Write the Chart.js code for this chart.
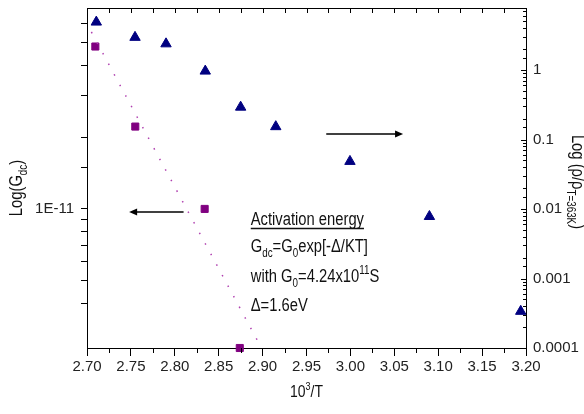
<!DOCTYPE html>
<html>
<head>
<meta charset="utf-8">
<script src="https://cdn.jsdelivr.net/npm/chart.js@4"></script>
<style>
  html, body { margin: 0; padding: 0; background: #fff; }
</style>
</head>
<body>
<canvas id="myChart" width="584" height="414"></canvas>
<script>
// conductivity (left axis, squares)
const condX = [2.7095, 2.755, 2.834, 2.874];
const condY = [4.82e-11, 2.22e-11, 1.0e-11, 2.6e-12];

// resistivity ratio (right axis, triangles)
const resX = [2.7106, 2.7547, 2.79, 2.8347, 2.875, 2.915, 2.9995, 3.09, 3.194];
const resY = [4.89, 2.95, 2.38, 0.964, 0.292, 0.153, 0.0484, 0.0078, 0.000337];

// Arrhenius fit (dotted)
const fitX = [2.705, 2.897];
const fitY = [5.55e-11, 2.67e-12];

const xTickVals = [2.70, 2.75, 2.80, 2.85, 2.90, 2.95, 3.00, 3.05, 3.10, 3.15, 3.20];
const xTickLabels = ["2.70", "2.75", "2.80", "2.85", "2.90", "2.95", "3.00", "3.05", "3.10", "3.15", "3.20"];
const leftTickVals = [1e-11];
const leftTickLabels = ["1E-11"];
const rightTickVals = [1e-4, 1e-3, 1e-2, 1e-1, 1];
const rightTickLabels = ["0.0001", "0.001", "0.01", "0.1", "1"];

const FF = '"Liberation Sans", Arial, sans-serif';
const SX = 0.82; // squeeze for the narrow look of the original text

function pickLabel(v, vals, labels) {
  const i = vals.findIndex((t) => Math.abs(t - v) / t < 1e-6);
  return i >= 0 ? labels[i] : "";
}

function richWidth(ctx, parts, size) {
  let w = 0;
  parts.forEach(([t, k]) => {
    const s = k === "n" ? size : Math.round(size * 0.65);
    ctx.font = s + "px " + FF;
    w += ctx.measureText(t).width;
  });
  return w * SX;
}

function drawRich(ctx, x, y, parts, size) {
  ctx.save();
  ctx.translate(x, y);
  ctx.scale(SX, 1);
  let cx = 0;
  parts.forEach(([t, k]) => {
    const s = k === "n" ? size : Math.round(size * 0.65);
    const dy = k === "sub" ? size * 0.3 : k === "sup" ? -size * 0.42 : 0;
    ctx.font = s + "px " + FF;
    ctx.fillText(t, cx, dy);
    cx += ctx.measureText(t).width;
  });
  ctx.restore();
  return cx * SX;
}

function arrow(ctx, x1, y, x2) {
  const dir = x2 > x1 ? 1 : -1;
  ctx.beginPath();
  ctx.moveTo(x1, y);
  ctx.lineTo(x2 - dir * 5, y);
  ctx.lineWidth = 1.5;
  ctx.stroke();
  ctx.beginPath();
  ctx.moveTo(x2, y);
  ctx.lineTo(x2 - dir * 8, y - 3.5);
  ctx.lineTo(x2 - dir * 8, y + 3.5);
  ctx.closePath();
  ctx.fill();
}

const decor = {
  id: "decor",
  afterDraw(chart) {
    const ctx = chart.ctx;
    const a = chart.chartArea;
    const xs = chart.scales.x;
    const yl = chart.scales.y;
    const yr = chart.scales.y2;
    ctx.save();
    ctx.strokeStyle = "#000";
    ctx.fillStyle = "#000";
    ctx.lineWidth = 1;

    // top frame line
    ctx.beginPath();
    ctx.moveTo(a.left, a.top + 0.5);
    ctx.lineTo(a.right, a.top + 0.5);
    ctx.stroke();

    // top ticks (inward) and bottom minor ticks
    for (let i = 0; i < xTickVals.length; i++) {
      const px = Math.round(xs.getPixelForValue(xTickVals[i])) + 0.5;
      ctx.beginPath();
      ctx.moveTo(px, a.top);
      ctx.lineTo(px, a.top + 5);
      ctx.stroke();
      if (i < xTickVals.length - 1) {
        const mx = Math.round(xs.getPixelForValue((xTickVals[i] + xTickVals[i + 1]) / 2)) + 0.5;
        ctx.beginPath();
        ctx.moveTo(mx, a.top);
        ctx.lineTo(mx, a.top + 5);
        ctx.moveTo(mx, a.bottom);
        ctx.lineTo(mx, a.bottom + 5);
        ctx.stroke();
      }
    }

    // right axis inward ticks
    yr.ticks.forEach((t) => {
      if (t.value <= yr.min || t.value >= yr.max) return;
      const py = Math.round(yr.getPixelForValue(t.value)) + 0.5;
      const major = pickLabel(t.value, rightTickVals, rightTickLabels) !== "";
      ctx.beginPath();
      ctx.moveTo(a.right, py);
      ctx.lineTo(a.right - (major ? 5 : 3), py);
      ctx.stroke();
    });

    // arrows pointing to each axis
    arrow(ctx, xs.getPixelForValue(2.81), yl.getPixelForValue(9.7e-12), xs.getPixelForValue(2.748));
    arrow(ctx, xs.getPixelForValue(2.9725), yr.getPixelForValue(0.12), xs.getPixelForValue(3.06));

    // activation energy note
    const tx = xs.getPixelForValue(2.8865);
    ctx.fillStyle = "#111";
    ctx.textBaseline = "alphabetic";
    ctx.textAlign = "left";
    const w0 = drawRich(ctx, tx, a.top + 217, [["Activation energy", "n"]], 18);
    ctx.beginPath();
    ctx.moveTo(tx, a.top + 220.5);
    ctx.lineTo(tx + w0, a.top + 220.5);
    ctx.strokeStyle = "#111";
    ctx.stroke();
    drawRich(ctx, tx, a.top + 243.5, [["G", "n"], ["dc", "sub"], ["=G", "n"], ["0", "sub"], ["exp[-\u0394/KT]", "n"]], 18);
    drawRich(ctx, tx, a.top + 273.5, [["with G", "n"], ["0", "sub"], ["=4.24x10", "n"], ["11", "sup"], ["S", "n"]], 18);
    drawRich(ctx, tx, a.top + 303, [["\u0394=1.6eV", "n"]], 18);

    // axis titles
    const xt = [["10", "n"], ["3", "sup"], ["/T", "n"]];
    drawRich(ctx, (a.left + a.right) / 2 - richWidth(ctx, xt, 17) / 2, 397, xt, 17);

    const lt = [["Log(G", "n"], ["dc", "sub"], [")", "n"]];
    ctx.save();
    ctx.translate(22, 188);
    ctx.rotate(-Math.PI / 2);
    drawRich(ctx, -richWidth(ctx, lt, 18) / 2, 0, lt, 18);
    ctx.restore();

    const rt = [["Log (\u03C1/\u03C1", "n"], ["T=363K", "sub"], [")", "n"]];
    ctx.save();
    ctx.translate(572, 182);
    ctx.rotate(Math.PI / 2);
    drawRich(ctx, -richWidth(ctx, rt, 18) / 2, 0, rt, 18);
    ctx.restore();

    ctx.restore();
  },
};

const ctx1 = document.getElementById("myChart");
new Chart(ctx1, {
  type: "scatter",
  data: {
    datasets: [
      {
        type: "line",
        data: fitX.map((x, i) => ({ x: x, y: fitY[i] })),
        yAxisID: "y",
        borderColor: "#b040b0",
        borderWidth: 1.5,
        borderDash: [1.5, 10.5],
        pointRadius: 0,
        fill: false,
      },
      {
        data: condX.map((x, i) => ({ x: x, y: condY[i] })),
        yAxisID: "y",
        pointStyle: "rect",
        pointRadius: 5,
        backgroundColor: "#800080",
        borderColor: "#800080",
        borderWidth: 1,
        clip: false,
      },
      {
        data: resX.map((x, i) => ({ x: x, y: resY[i] })),
        yAxisID: "y2",
        pointStyle: "triangle",
        pointRadius: 6,
        backgroundColor: "#000080",
        borderColor: "#000080",
        borderWidth: 1,
        clip: false,
      },
    ],
  },
  options: {
    responsive: false,
    animation: false,
    devicePixelRatio: 1,
    layout: { padding: { top: 8, left: 0, right: 0, bottom: 0 } },
    plugins: { legend: { display: false }, tooltip: { enabled: false } },
    scales: {
      x: {
        type: "linear",
        min: 2.7,
        max: 3.2,
        ticks: {
          stepSize: 0.05,
          autoSkip: false,
          maxRotation: 0,
          padding: 2,
          color: "#222",
          font: { family: FF, size: 15 },
          callback: (v) => pickLabel(v, xTickVals, xTickLabels),
        },
        grid: { drawOnChartArea: false, tickLength: 8, color: "#000" },
        border: { color: "#000" },
        afterFit: (s) => { s.height = 66; s.paddingLeft = 0; s.paddingRight = 0; },
      },
      y: {
        type: "logarithmic",
        position: "left",
        min: 2.6e-12,
        max: 7e-11,
        ticks: {
          autoSkip: false,
          padding: 7,
          color: "#222",
          font: { family: FF, size: 15 },
          callback: (v) => pickLabel(v, leftTickVals, leftTickLabels),
        },
        grid: {
          drawOnChartArea: false,
          tickLength: 6,
          color: (c) => (c.tick && (c.tick.value <= 2.6e-12 || c.tick.value >= 7e-11) ? "rgba(0,0,0,0)" : "#000"),
        },
        border: { color: "#000" },
        afterFit: (s) => { s.width = 87; s.paddingTop = 0; s.paddingBottom = 0; },
      },
      y2: {
        type: "logarithmic",
        position: "right",
        min: 1e-4,
        max: 7.8,
        ticks: {
          autoSkip: false,
          padding: 7,
          color: "#222",
          font: { family: FF, size: 15 },
          callback: (v) => pickLabel(v, rightTickVals, rightTickLabels),
        },
        grid: { display: false, drawTicks: false },
        border: { color: "#000" },
        afterFit: (s) => { s.width = 58; s.paddingTop = 0; s.paddingBottom = 0; },
      },
    },
  },
  plugins: [decor],
});
</script>
</body>
</html>
